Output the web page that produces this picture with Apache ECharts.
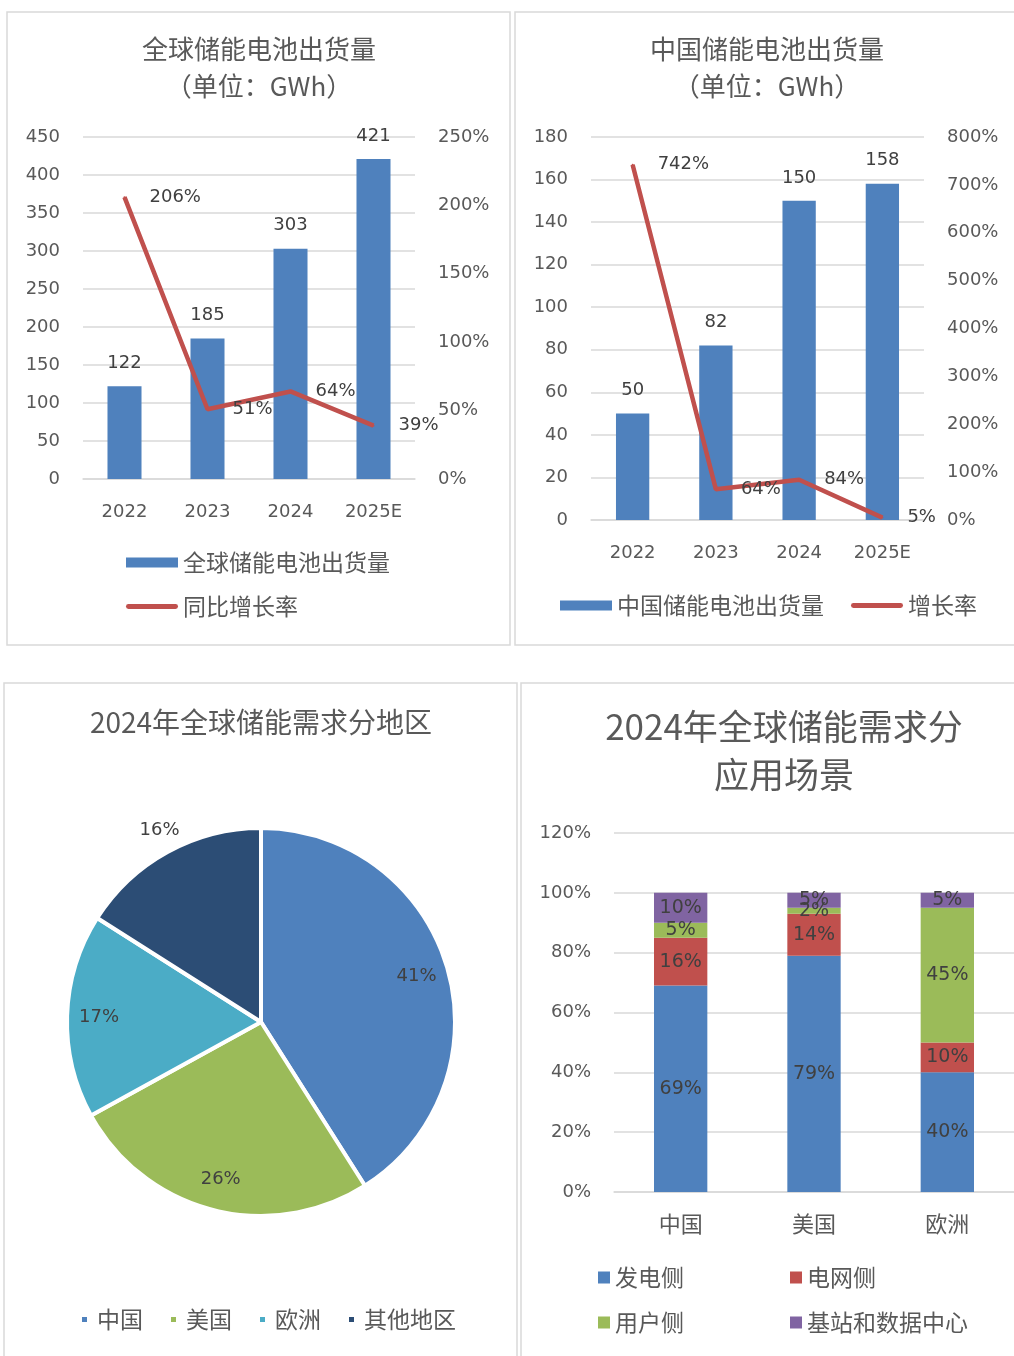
<!DOCTYPE html>
<html>
<head>
<meta charset="utf-8">
<script src="https://cdn.jsdelivr.net/npm/echarts@6/dist/echarts.min.js"></script>
<style>
html, body { margin: 0; padding: 0; background: #fff; }
#main { width: 1014px; height: 1356px; }
</style>
</head>
<body>
<div id="main"></div>
<script>
// 全球储能电池出货量（GWh）
var globalYears = ['2022', '2023', '2024', '2025E'];
var globalShip = [122, 185, 303, 421];
var globalGrowth = [206, 51, 64, 39];
// 中国储能电池出货量（GWh）
var chinaYears = ['2022', '2023', '2024', '2025E'];
var chinaShip = [50, 82, 150, 158];
var chinaGrowth = [742, 64, 84, 5];
// 2024年全球储能需求分地区 (%)
var regionNames = ['中国', '美国', '欧洲', '其他地区'];
var regionShare = [41, 26, 17, 16];
// 2024年全球储能需求分应用场景 (%)
var sceneRegions = ['中国', '美国', '欧洲'];
var genSide = [69, 79, 40];
var gridSide = [16, 14, 10];
var userSide = [5, 2, 45];
var stationDC = [10, 5, 5];

var gray = '#595959';
var dark = '#404040';
var lineGray = '#D9D9D9';
var numFont = 'DejaVu Sans';
var cnFont = 'Noto Sans CJK SC';
var blue = '#4F81BD', red = '#C0504D', green = '#9BBB59', teal = '#4BACC6', navy = '#2C4D75', purple = '#8064A2';
// 图例里的粗线
var lineIcon = 'path://M2,0 L50,0 A2.5,2.5 0 0 1 50,5 L2,5 A2.5,2.5 0 0 1 2,0 Z';

function catAxis(gridIndex, data, cn) {
    return {
        type: 'category',
        gridIndex: gridIndex,
        data: data,
        axisTick: { show: false },
        axisLine: { lineStyle: { color: lineGray, width: 1.5 } },
        axisLabel: {
            color: gray,
            fontFamily: cn ? cnFont : numFont,
            fontSize: cn ? 22 : 18,
            margin: cn ? 21 : 24
        }
    };
}

function valAxis(gridIndex, max, interval, right, pct) {
    return {
        type: 'value',
        gridIndex: gridIndex,
        position: right ? 'right' : 'left',
        min: 0,
        max: max,
        interval: interval,
        axisLine: { show: false },
        axisTick: { show: false },
        splitLine: { show: !right, lineStyle: { color: lineGray, width: 1.5 } },
        axisLabel: {
            color: gray,
            fontFamily: numFont,
            fontSize: 18,
            margin: 23,
            formatter: pct ? '{value}%' : '{value}'
        }
    };
}

function stackBar(name, data, color) {
    return {
        name: name,
        type: 'bar',
        xAxisIndex: 2,
        yAxisIndex: 4,
        stack: 'scene',
        barWidth: '40%',
        data: data,
        itemStyle: { color: color },
        label: {
            show: true,
            position: 'inside',
            formatter: '{c}%',
            color: dark,
            fontFamily: numFont,
            fontSize: 19
        }
    };
}

var titleStyle = { color: gray, fontFamily: cnFont, fontWeight: 'normal' };
var legendText = { color: gray, fontFamily: cnFont, fontSize: 23 };

var myChart = echarts.init(document.getElementById('main'));
var option = {
    backgroundColor: '#fff',
    animation: false,
    graphic: [
        { type: 'rect', shape: { x: 7, y: 12, width: 503, height: 633 }, style: { fill: 'none', stroke: lineGray, lineWidth: 1.5 }, z: -1 },
        { type: 'rect', shape: { x: 515, y: 12, width: 505, height: 633 }, style: { fill: 'none', stroke: lineGray, lineWidth: 1.5 }, z: -1 },
        { type: 'rect', shape: { x: 4, y: 683, width: 513, height: 690 }, style: { fill: 'none', stroke: lineGray, lineWidth: 1.5 }, z: -1 },
        { type: 'rect', shape: { x: 521, y: 683, width: 505, height: 690 }, style: { fill: 'none', stroke: lineGray, lineWidth: 1.5 }, z: -1 }
    ],
    title: [
        { text: '全球储能电池出货量\n（单位：GWh）', left: 259, top: 31, textAlign: 'center', padding: 0,
          textStyle: Object.assign({ fontSize: 26, lineHeight: 37 }, titleStyle) },
        { text: '中国储能电池出货量\n（单位：GWh）', left: 767, top: 31, textAlign: 'center', padding: 0,
          textStyle: Object.assign({ fontSize: 26, lineHeight: 37 }, titleStyle) },
        { text: '2024年全球储能需求分地区', left: 261, top: 704, textAlign: 'center', padding: 0,
          textStyle: Object.assign({ fontSize: 28, lineHeight: 36 }, titleStyle) },
        { text: '2024年全球储能需求分\n应用场景', left: 784, top: 703, textAlign: 'center', padding: 0,
          textStyle: Object.assign({ fontSize: 35, lineHeight: 48 }, titleStyle) }
    ],
    legend: [
        { data: [{ name: '全球储能电池出货量', icon: 'rect' }, { name: '同比增长率', icon: lineIcon }],
          orient: 'vertical', left: 126, top: 551, padding: 0,
          itemWidth: 52, itemHeight: 10, itemGap: 21, textStyle: legendText },
        { data: [{ name: '中国储能电池出货量', icon: 'rect' }, { name: '增长率', icon: lineIcon }],
          left: 560, top: 594, padding: 0,
          itemWidth: 52, itemHeight: 10, itemGap: 27, textStyle: legendText },
        { data: regionNames, left: 80, top: 1308, padding: 0, icon: 'rect',
          itemWidth: 7, itemHeight: 7, itemGap: 26,
          textStyle: { color: gray, fontFamily: cnFont, fontSize: 23, padding: [0, 0, 0, 4] } },
        { data: ['发电侧', '电网侧'], left: 598, top: 1266, padding: 0, icon: 'rect',
          itemWidth: 12, itemHeight: 12, itemGap: 106, textStyle: legendText },
        { data: ['用户侧', '基站和数据中心'], left: 598, top: 1311, padding: 0, icon: 'rect',
          itemWidth: 12, itemHeight: 12, itemGap: 106, textStyle: legendText }
    ],
    grid: [
        { left: 83, top: 137, width: 332, height: 342 },
        { left: 591, top: 137, width: 333, height: 383 },
        { left: 614, top: 833, width: 403, height: 359 }
    ],
    xAxis: [
        catAxis(0, globalYears, false),
        catAxis(1, chinaYears, false),
        catAxis(2, sceneRegions, true)
    ],
    yAxis: [
        valAxis(0, 450, 50, false, false),
        valAxis(0, 250, 50, true, true),
        valAxis(1, 180, 20, false, false),
        valAxis(1, 800, 100, true, true),
        valAxis(2, 120, 20, false, true)
    ],
    series: [
        {
            name: '全球储能电池出货量', type: 'bar', xAxisIndex: 0, yAxisIndex: 0,
            barWidth: '41%', data: globalShip, itemStyle: { color: blue },
            label: { show: true, position: 'top', distance: 14, color: dark, fontFamily: numFont, fontSize: 18 }
        },
        {
            name: '同比增长率', type: 'line', xAxisIndex: 0, yAxisIndex: 1,
            data: globalGrowth, symbol: 'circle', symbolSize: 2,
            lineStyle: { color: red, width: 4.5 }, itemStyle: { color: red },
            label: { show: true, position: 'right', distance: 24, formatter: '{c}%', color: dark, fontFamily: numFont, fontSize: 18 }
        },
        {
            name: '中国储能电池出货量', type: 'bar', xAxisIndex: 1, yAxisIndex: 2,
            barWidth: '40%', data: chinaShip, itemStyle: { color: blue },
            label: { show: true, position: 'top', distance: 14, color: dark, fontFamily: numFont, fontSize: 18 }
        },
        {
            name: '增长率', type: 'line', xAxisIndex: 1, yAxisIndex: 3,
            data: chinaGrowth, symbol: 'circle', symbolSize: 2,
            lineStyle: { color: red, width: 4.5 }, itemStyle: { color: red },
            label: { show: true, position: 'right', distance: 24, formatter: '{c}%', color: dark, fontFamily: numFont, fontSize: 18 }
        },
        {
            name: '地区', type: 'pie', center: [261, 1022], radius: 194,
            startAngle: 90, clockwise: true,
            color: [blue, green, teal, navy],
            itemStyle: { borderColor: '#fff', borderWidth: 4 },
            label: { show: false }, labelLine: { show: false },
            data: regionNames.map(function (n, i) { return { name: n, value: regionShare[i] }; })
        },
        {
            // 标签层，透明环，只用来放百分比
            name: '地区标签', type: 'pie', center: [261, 1022], radius: [126, 192],
            startAngle: 90, clockwise: true, silent: true,
            itemStyle: { color: 'rgba(0,0,0,0)', borderWidth: 0 },
            label: { show: true, position: 'inside', formatter: '{c}%', color: dark, fontFamily: numFont, fontSize: 18 },
            labelLine: { show: false },
            data: regionNames.map(function (n, i) {
                var d = { name: n, value: regionShare[i] };
                if (n === '其他地区') {
                    d.label = { position: 'outside', distanceToLabelLine: -24 };
                    d.labelLine = { show: false, length: 27, length2: 0 };
                }
                return d;
            })
        },
        stackBar('发电侧', genSide, blue),
        stackBar('电网侧', gridSide, red),
        stackBar('用户侧', userSide, green),
        stackBar('基站和数据中心', stationDC, purple)
    ]
};
myChart.setOption(option);
</script>
</body>
</html>
